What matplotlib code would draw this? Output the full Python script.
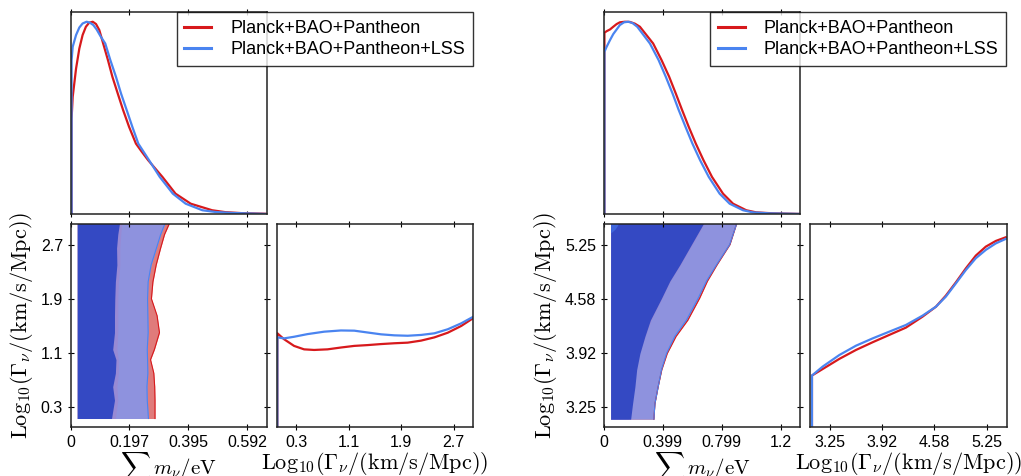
import matplotlib
matplotlib.use("Agg")
import matplotlib.pyplot as plt
from matplotlib.lines import Line2D

plt.rcParams['mathtext.fontset'] = 'cm'
plt.rcParams['font.family'] = ['Liberation Sans', 'DejaVu Sans']

labels = ['Planck+BAO+Pantheon', 'Planck+BAO+Pantheon+LSS']
red_line = '#d7191c'
blue_line = '#4a84f0'
red_fill = '#e07b7b'
blue_fill2 = '#8e92de'
blue_fill1 = '#3449c3'
tint_fill = '#9a88d2'

# ---- left triangle: sum m_nu marginal ----
mnu_red_x_a = [0.003, 0.003, 0.0067, 0.018, 0.029, 0.040, 0.051, 0.062, 0.074, 0.085,
               0.096, 0.109, 0.125, 0.140, 0.158, 0.176, 0.196, 0.219, 0.239, 0.26,
               0.308, 0.352, 0.403, 0.475, 0.52, 0.575, 0.653]
mnu_red_a = [0, 0.497, 0.61, 0.757, 0.861, 0.931, 0.974, 0.995, 1.0, 0.988,
             0.957, 0.887, 0.801, 0.714, 0.627, 0.541, 0.454, 0.367, 0.324, 0.281,
             0.194, 0.107, 0.055, 0.021, 0.011, 0.006, 0.003]
mnu_blue_x_a = [0.003, 0.003, 0.0067, 0.018, 0.029, 0.040, 0.0535, 0.0647, 0.0758, 0.087,
                0.10, 0.116, 0.133, 0.152, 0.169, 0.188, 0.207, 0.227, 0.263, 0.299,
                0.343, 0.386, 0.442, 0.486, 0.542, 0.653]
mnu_blue_a = [0, 0.80, 0.87, 0.931, 0.97, 0.991, 1.0, 0.995, 0.983, 0.96,
              0.925, 0.887, 0.801, 0.714, 0.627, 0.541, 0.454, 0.367, 0.281, 0.194,
              0.107, 0.055, 0.021, 0.012, 0.007, 0.002]

# left triangle: log10 Gamma marginal (fraction of panel height)
gam_red_x_a = [0.01, 0.01, 0.112, 0.265, 0.418, 0.571, 0.776, 0.98, 1.184, 1.388, 1.592,
               1.796, 2.0, 2.204, 2.408, 2.612, 2.816, 3.02]
gam_red_a = [0, 0.463, 0.434, 0.401, 0.384, 0.381, 0.384, 0.393, 0.401, 0.405, 0.41,
             0.414, 0.417, 0.427, 0.443, 0.466, 0.499, 0.542]
gam_blue_x_a = [0.01, 0.01, 0.112, 0.265, 0.469, 0.724, 0.98, 1.184, 1.388, 1.592,
                1.796, 2.0, 2.204, 2.408, 2.612, 2.816, 3.02]
gam_blue_a = [0, 0.443, 0.438, 0.446, 0.459, 0.471, 0.477, 0.476, 0.467, 0.458,
              0.453, 0.451, 0.455, 0.463, 0.483, 0.512, 0.548]

# left triangle: 2D contour right boundaries (sum m_nu) along log10 Gamma
cont_gam_a = [0.13, 0.4, 0.6, 0.8, 1.0, 1.15, 1.4, 1.65, 1.9, 2.15, 2.4, 2.65, 2.85, 3.05]
cont_left_a = 0.022
blue1_a = [0.137, 0.147, 0.141, 0.15, 0.152, 0.141, 0.147, 0.147, 0.148, 0.150, 0.155,
           0.154, 0.158, 0.165]
blue2_a = [0.261, 0.257, 0.256, 0.259, 0.258, 0.257, 0.26, 0.259, 0.258, 0.26, 0.27,
           0.288, 0.302, 0.32]
red1_a = [0.15, 0.158, 0.155, 0.16, 0.16, 0.155, 0.158, 0.158, 0.158, 0.16, 0.165,
          0.165, 0.168, 0.172]
red2_a = [0.283, 0.283, 0.282, 0.279, 0.268, 0.281, 0.298, 0.29, 0.271, 0.276, 0.287,
          0.302, 0.315, 0.335]

# ---- right triangle ----
mnu_red_x_b = [0.003, 0.003, 0.018, 0.041, 0.063, 0.086, 0.108, 0.142, 0.176, 0.21,
               0.244, 0.334, 0.391, 0.443, 0.488, 0.531, 0.576, 0.624, 0.676, 0.734,
               0.809, 0.877, 0.967, 1.035, 1.148, 1.329]
mnu_red_b = [0, 0.943, 0.951, 0.96, 0.974, 0.988, 0.997, 1.0, 0.999, 0.99,
             0.974, 0.887, 0.801, 0.714, 0.627, 0.541, 0.454, 0.367, 0.281, 0.194,
             0.107, 0.055, 0.021, 0.010, 0.005, 0.002]
mnu_blue_x_b = [0.003, 0.003, 0.018, 0.041, 0.063, 0.086, 0.108, 0.136, 0.165, 0.194,
                0.226, 0.312, 0.371, 0.42, 0.466, 0.508, 0.554, 0.601, 0.653, 0.712,
                0.786, 0.854, 0.945, 1.012, 1.125, 1.329]
mnu_blue_b = [0, 0.844, 0.87, 0.905, 0.936, 0.96, 0.983, 0.997, 1.0, 0.993,
              0.974, 0.887, 0.801, 0.714, 0.627, 0.541, 0.454, 0.367, 0.281, 0.194,
              0.107, 0.055, 0.021, 0.010, 0.005, 0.002]

gam_x_b = [3.025, 3.025, 3.161, 3.373, 3.585, 3.797, 4.008, 4.22, 4.432, 4.602, 4.729,
           4.856, 4.983, 5.11, 5.237, 5.364, 5.49]
gam_red_b = [0, 0.255, 0.287, 0.337, 0.381, 0.419, 0.455, 0.491, 0.545, 0.594, 0.649,
             0.714, 0.783, 0.846, 0.89, 0.918, 0.936]
gam_blue_b = [0, 0.255, 0.299, 0.356, 0.402, 0.438, 0.471, 0.504, 0.55, 0.594, 0.644,
              0.709, 0.775, 0.833, 0.874, 0.906, 0.928]

cont_gam_b = [3.10, 3.29, 3.50, 3.71, 3.91, 4.12, 4.32, 4.59, 4.80, 5.00, 5.25, 5.50, 5.55]
cont_left_b = 0.045
blue1_b = [0.181, 0.194, 0.21, 0.222, 0.244, 0.278, 0.315, 0.391, 0.447, 0.515, 0.594,
           0.673, 0.69]
blue2_b = [0.339, 0.346, 0.368, 0.391, 0.425, 0.481, 0.56, 0.64, 0.696, 0.764, 0.854,
           0.90, 0.91]
red1_b = [0.165, 0.18, 0.2, 0.215, 0.24, 0.28, 0.32, 0.395, 0.45, 0.52, 0.6, 0.678, 0.695]
red2_b = [0.339, 0.346, 0.368, 0.393, 0.43, 0.49, 0.57, 0.65, 0.703, 0.768, 0.856,
          0.90, 0.91]
# small island at the top-left corner of the right 2D panel
blob_gam_b = [5.40, 5.44, 5.48, 5.52, 5.55]
blob_right_b = [0.05, 0.075, 0.09, 0.10, 0.105]

mnu_ticks_a = [0, 0.197, 0.395, 0.592]
mnu_ticklabels_a = ['0', '0.197', '0.395', '0.592']
gam_ticks_a = [0.3, 1.1, 1.9, 2.7]
mnu_ticks_b = [0, 0.399, 0.799, 1.2]
mnu_ticklabels_b = ['0', '0.399', '0.799', '1.2']
gam_ticks_b = [3.25, 3.92, 4.58, 5.25]

xlabel_m = r'$\sum\, m_\nu/\mathrm{eV}$'
label_g = r'$\mathrm{Log}_{10}(\Gamma_\nu/(\mathrm{km/s/Mpc}))$'

W, H = 1021, 476
fig = plt.figure(figsize=(W / 100, H / 100), dpi=100)


def px_axes(x0, y0, x1, y1):
    return fig.add_axes([x0 / W, 1 - y1 / H, (x1 - x0) / W, (y1 - y0) / H])


def style(ax):
    for s in ax.spines.values():
        s.set_linewidth(1.1)
        s.set_color('#222222')
    ax.tick_params(direction='inout', length=5, width=0.8, top=True, right=True,
                   labelsize=11.5, pad=3)


def panel(x0, top_red, top_blue, g_red, g_blue, cg, cl, b1, b2, r1, r2,
          mlim, glim, mt, mtl, gt, blob=None):
    ax_top = px_axes(x0, 12.3, x0 + 196, 214.3)
    ax_2d = px_axes(x0, 224.3, x0 + 196, 427.3)
    ax_g = px_axes(x0 + 206, 224.3, x0 + 402.5, 427.3)

    # 1D sum m_nu
    ax_top.plot(*top_red, color=red_line, lw=1.6)
    ax_top.plot(*top_blue, color=blue_line, lw=1.6)
    ax_top.set_xlim(*mlim)
    ax_top.set_ylim(0, 1.049)
    style(ax_top)
    ax_top.set_xticks(mt)
    ax_top.set_xticklabels([])
    ax_top.set_yticks([])

    # 2D contours
    ax_2d.fill_betweenx(cg, cl, r2, color=red_fill, lw=0)
    ax_2d.plot(r2, cg, color=red_line, lw=0.8)
    ax_2d.fill_betweenx(cg, cl, b2, color=blue_fill2, lw=0)
    ax_2d.plot(b2, cg, color=blue_line, lw=0.8)
    ax_2d.fill_betweenx(cg, cl, r1, color=tint_fill, lw=0, alpha=0.8)
    ax_2d.fill_betweenx(cg, cl, b1, color=blue_fill1, lw=0)
    if blob is not None:
        ax_2d.fill_betweenx(blob[0], cl, blob[1], color='#3f66dc', lw=0)
    ax_2d.set_xlim(*mlim)
    ax_2d.set_ylim(*glim)
    style(ax_2d)
    ax_2d.set_xticks(mt)
    ax_2d.set_xticklabels(mtl)
    ax_2d.set_yticks(gt)
    ax_2d.set_yticklabels([str(t) for t in gt])
    ax_2d.set_xlabel(xlabel_m, fontsize=15, labelpad=0)
    ax_2d.set_ylabel(label_g, fontsize=16, labelpad=4)

    # 1D gamma
    ax_g.plot(*g_red, color=red_line, lw=1.6)
    ax_g.plot(*g_blue, color=blue_line, lw=1.6)
    ax_g.set_xlim(*glim)
    ax_g.set_ylim(0, 1.0)
    style(ax_g)
    ax_g.set_xticks(gt)
    ax_g.set_xticklabels([str(t) for t in gt])
    ax_g.set_yticks([])
    ax_g.set_xlabel(label_g, fontsize=16, labelpad=0)

    handles = [Line2D([], [], color=red_line, lw=2.2), Line2D([], [], color=blue_line, lw=2.2)]
    leg = fig.legend(handles, labels, loc='upper right',
                     bbox_to_anchor=((x0 + 402) / W, 1 - 12.3 / H),
                     bbox_transform=fig.transFigure, borderaxespad=0,
                     fontsize=13, fancybox=False, edgecolor='black',
                     handlelength=1.5, handletextpad=1.05, labelspacing=0.25,
                     borderpad=0.42)
    leg.get_frame().set_linewidth(1.0)


panel(70.7, (mnu_red_x_a, mnu_red_a), (mnu_blue_x_a, mnu_blue_a),
      (gam_red_x_a, gam_red_a), (gam_blue_x_a, gam_blue_a),
      cont_gam_a, cont_left_a, blue1_a, blue2_a, red1_a, red2_a,
      (0, 0.658), (0, 3.0), mnu_ticks_a, mnu_ticklabels_a, gam_ticks_a)
panel(604, (mnu_red_x_b, mnu_red_b), (mnu_blue_x_b, mnu_blue_b),
      (gam_x_b, gam_red_b), (gam_x_b, gam_blue_b),
      cont_gam_b, cont_left_b, blue1_b, blue2_b, red1_b, red2_b,
      (0, 1.332), (3.0, 5.5), mnu_ticks_b, mnu_ticklabels_b, gam_ticks_b,
      blob=(blob_gam_b, blob_right_b))

fig.savefig('out.png', dpi=100)
